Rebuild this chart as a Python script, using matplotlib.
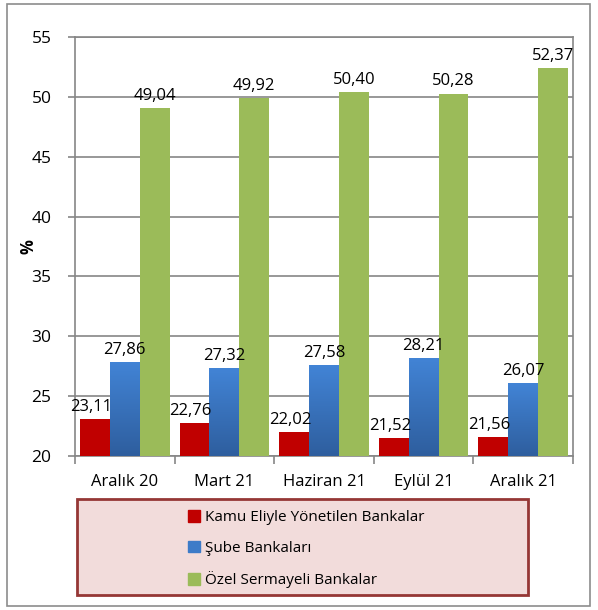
import matplotlib.pyplot as plt
import matplotlib.patches as mpatches
from matplotlib.colors import LinearSegmentedColormap
import numpy as np

plt.rcParams['font.family'] = ['Open Sans', 'DejaVu Sans']

# Data
categories = ['Aralık 20', 'Mart 21', 'Haziran 21', 'Eylül 21', 'Aralık 21']
series_names = ['Kamu Eliyle Yönetilen Bankalar', 'Şube Bankaları', 'Özel Sermayeli Bankalar']
kamu = [23.11, 22.76, 22.02, 21.52, 21.56]
sube = [27.86, 27.32, 27.58, 28.21, 26.07]
ozel = [49.04, 49.92, 50.40, 50.28, 52.37]
colors = ['#C00000', '#3D7BC8', '#9BBB59']

W, H = 598, 610
fig = plt.figure(figsize=(W / 100, H / 100), dpi=100)

# outer frame
fig.patches.append(mpatches.Rectangle((7 / W, 4 / H), 583 / W, 602 / H, transform=fig.transFigure,
                                      fill=False, edgecolor='#8C8C8C', linewidth=1.2))

ax = fig.add_axes([75 / W, 1 - 456 / H, 498 / W, 419 / H])
x = np.arange(len(categories))
bw = 0.30
blue_cmap = LinearSegmentedColormap.from_list('b', ['#2E5E9E', '#4284D6'])
grad = np.linspace(0, 1, 256).reshape(-1, 1)
for i, (vals, col) in enumerate(zip([kamu, sube, ozel], colors)):
    pos = x + (i - 1) * bw
    bars = ax.bar(pos, [v - 20 for v in vals], bw, bottom=20, color=col, zorder=3)
    if i == 1:
        # vertical gradient on the blue bars
        for b in bars:
            bx, by = b.get_x(), b.get_y()
            im = ax.imshow(grad, cmap=blue_cmap, origin='lower', aspect='auto', zorder=3.5,
                           extent=[bx, bx + b.get_width(), by, by + b.get_height()])
            im.set_clip_path(b)
    for p, v in zip(pos, vals):
        label = f'{v:.2f}'.replace('.', ',')
        dx = -0.04 if i == 0 else 0
        ax.text(p + dx, v + 0.35, label, ha='center', va='bottom', fontsize=12, zorder=4)

ax.set_ylim(20, 55)
ax.set_xlim(-0.5, len(categories) - 0.5)
ax.set_yticks(range(20, 56, 5))
ax.yaxis.grid(True, color='#868686', linewidth=1.2, zorder=0)
ax.set_xticks(x)
ax.set_xticklabels(categories, fontsize=12)
ax.set_xticks(np.arange(-0.5, len(categories), 1), minor=True)
ax.tick_params(axis='x', which='major', length=0, pad=13)
ax.tick_params(axis='x', which='minor', length=6, color='#868686', width=1.2)
ax.tick_params(axis='y', labelsize=12.5, length=5, color='#868686', width=1.2, pad=12)
for s in ax.spines.values():
    s.set_color('#868686')
    s.set_linewidth(1.2)
ax.set_ylabel('%', fontsize=12, fontweight='bold')
ax.yaxis.set_label_coords(-0.075, 0.5)

# legend box
fig.patches.append(mpatches.Rectangle((77 / W, 1 - 595 / H), 451 / W, 96 / H, transform=fig.transFigure,
                                      facecolor='#F2DCDB', edgecolor='#953735', linewidth=2))
handles = [mpatches.Patch(color=c) for c in colors]
fig.legend(handles, series_names, loc='upper left', bbox_to_anchor=(182 / W, 1 - 504 / H),
           frameon=False, fontsize=11, handlelength=0.8, handleheight=0.8, handletextpad=0.3,
           labelspacing=1.0, borderaxespad=0)

plt.savefig('out.png', dpi=100)
